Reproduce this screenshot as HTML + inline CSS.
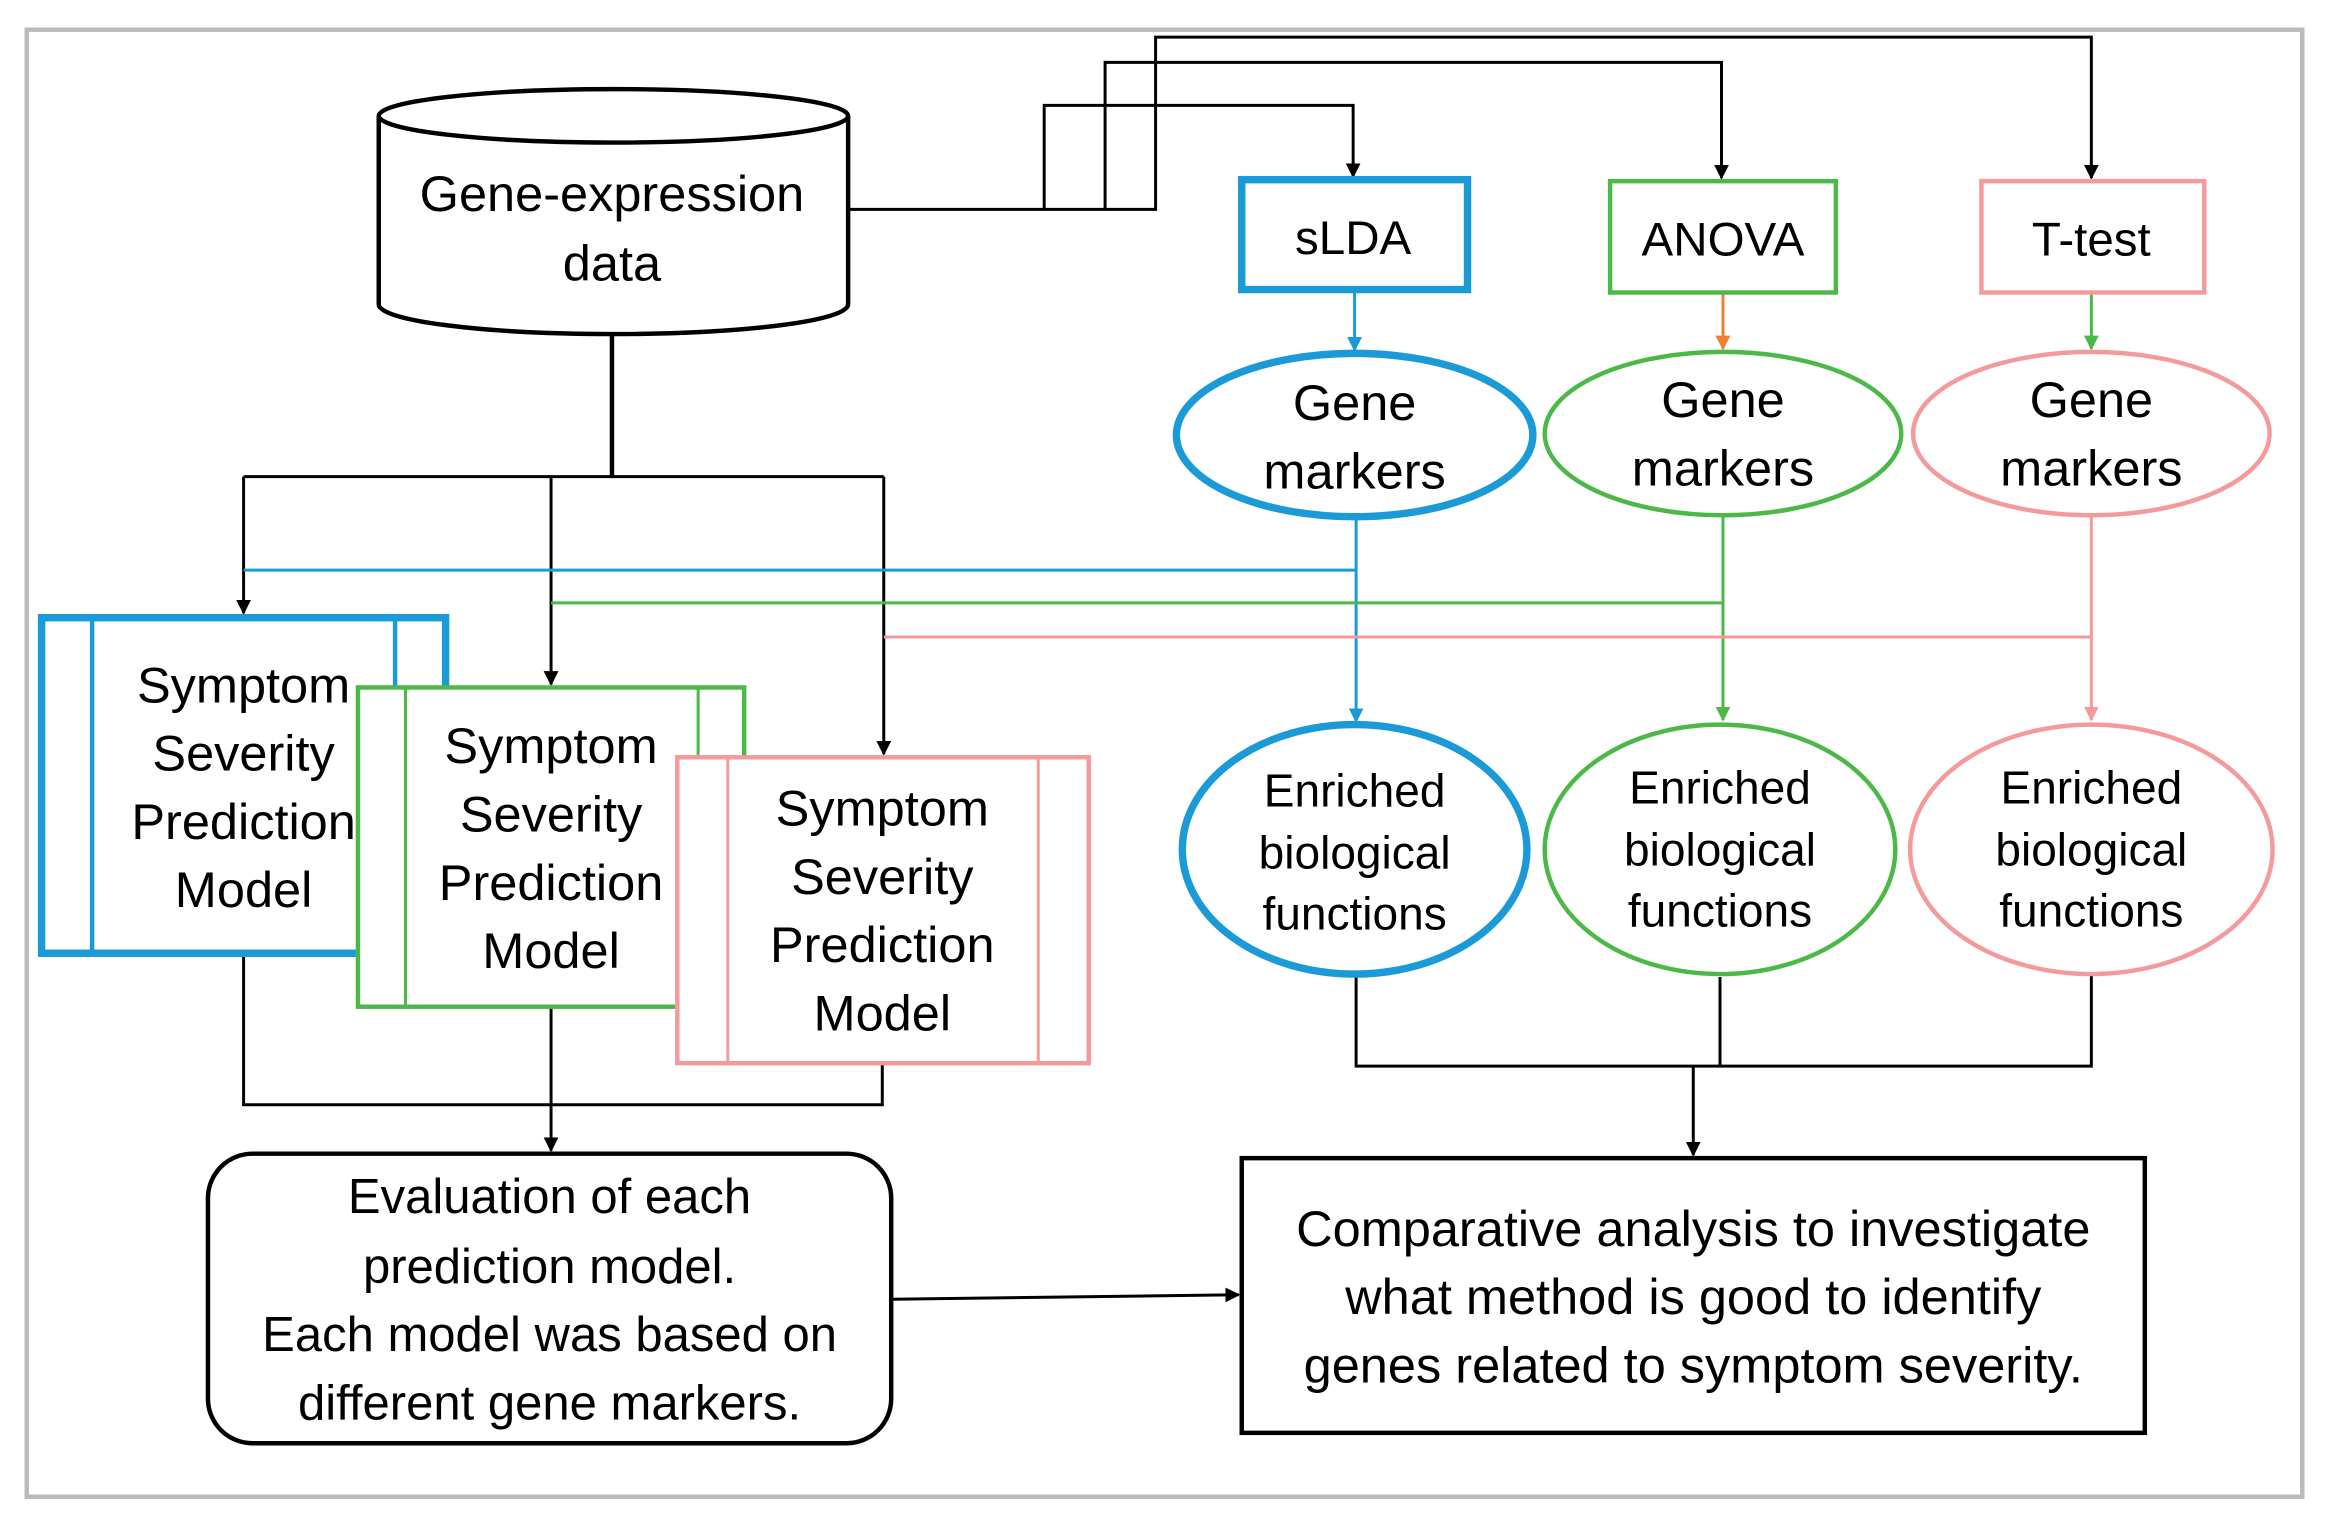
<!DOCTYPE html>
<html><head><style>html,body{margin:0;padding:0;background:#fff}svg{display:block}</style></head>
<body>
<svg width="2329" height="1516" viewBox="0 0 1568 1021" preserveAspectRatio="none" xmlns="http://www.w3.org/2000/svg" font-family="Liberation Sans, sans-serif">
<defs>
<marker id="a" viewBox="0 0 10 10" refX="9" refY="5" markerWidth="5" markerHeight="5" orient="auto"><path d="M0,0L10,5L0,10z" fill="#000"/></marker>
<marker id="ab" viewBox="0 0 10 10" refX="9" refY="5" markerWidth="5" markerHeight="5" orient="auto"><path d="M0,0L10,5L0,10z" fill="#1a9ad6"/></marker>
<marker id="ag" viewBox="0 0 10 10" refX="9" refY="5" markerWidth="5" markerHeight="5" orient="auto"><path d="M0,0L10,5L0,10z" fill="#4cb848"/></marker>
<marker id="ap" viewBox="0 0 10 10" refX="9" refY="5" markerWidth="5" markerHeight="5" orient="auto"><path d="M0,0L10,5L0,10z" fill="#f59a9a"/></marker>
<marker id="ao" viewBox="0 0 10 10" refX="9" refY="5" markerWidth="5" markerHeight="5" orient="auto"><path d="M0,0L10,5L0,10z" fill="#f08030"/></marker>
</defs>
<rect x="18" y="20" width="1532" height="988" fill="#fff" stroke="#bbb" stroke-width="3"/>
<g fill="none" stroke="#000" stroke-width="2">
<path d="M571,141H703V71H911V119" marker-end="url(#a)"/>
<path d="M703,141H744V42H1159V120" marker-end="url(#a)"/>
<path d="M744,141H778V25H1408V120" marker-end="url(#a)"/>
<path d="M412,225V321" stroke-width="3"/>
<path d="M164,321H595"/>
<path d="M164,321V413" marker-end="url(#a)"/>
<path d="M371,321V461" marker-end="url(#a)"/>
<path d="M595,321V508" marker-end="url(#a)"/>
<path d="M164,642V744H594V716M371,678V775" marker-end="url(#a)"/>
<path d="M913,656V718H1408V656M1158,658V718M1140,718V778" marker-end="url(#a)"/>
<path d="M600,875L834,872" marker-end="url(#a)"/>
</g>
<g fill="none" stroke-width="2">
<path d="M164,384H913" stroke="#1a9ad6"/>
<path d="M913,348V486" stroke="#1a9ad6" marker-end="url(#ab)"/>
<path d="M371,406H1160" stroke="#4cb848"/>
<path d="M1160,347V485" stroke="#4cb848" marker-end="url(#ag)"/>
<path d="M595,429H1408" stroke="#f59a9a"/>
<path d="M1408,347V485" stroke="#f59a9a" marker-end="url(#ap)"/>
<path d="M912,197V236" stroke="#1a9ad6" marker-end="url(#ab)"/>
<path d="M1160,198V235" stroke="#f08030" marker-end="url(#ao)"/>
<path d="M1408,198V235" stroke="#4cb848" marker-end="url(#ag)"/>
</g>
<g stroke="#000" stroke-width="3" fill="#fff">
<path d="M255,78V205A158,20 0 0 0 571,205V78"/>
<ellipse cx="413" cy="78" rx="158" ry="18"/>
</g>
<g font-size="34" text-anchor="middle" fill="#000">
<text x="412" y="142">Gene-expression</text>
<text x="412" y="189">data</text>
</g>
<rect x="836" y="121" width="152" height="74" fill="#fff" stroke="#1a9ad6" stroke-width="5"/>
<rect x="1084" y="122" width="152" height="75" fill="#fff" stroke="#4cb848" stroke-width="3"/>
<rect x="1334" y="122" width="150" height="75" fill="#fff" stroke="#f59a9a" stroke-width="3"/>
<g font-size="32" text-anchor="middle">
<text x="911" y="171">sLDA</text>
<text x="1160" y="172">ANOVA</text>
<text x="1408" y="172">T-test</text>
</g>
<ellipse cx="912" cy="293" rx="120" ry="55" fill="#fff" stroke="#1a9ad6" stroke-width="5"/>
<ellipse cx="1160" cy="292" rx="120" ry="55" fill="#fff" stroke="#4cb848" stroke-width="3"/>
<ellipse cx="1408" cy="292" rx="120" ry="55" fill="#fff" stroke="#f59a9a" stroke-width="3"/>
<g font-size="34" text-anchor="middle">
<text x="912" y="283">Gene</text><text x="912" y="329">markers</text>
<text x="1160" y="281">Gene</text><text x="1160" y="327">markers</text>
<text x="1408" y="281">Gene</text><text x="1408" y="327">markers</text>
</g>
<ellipse cx="912" cy="572" rx="116" ry="84" fill="#fff" stroke="#1a9ad6" stroke-width="5"/>
<ellipse cx="1158" cy="572" rx="118" ry="84" fill="#fff" stroke="#4cb848" stroke-width="3"/>
<ellipse cx="1408" cy="572" rx="122" ry="84" fill="#fff" stroke="#f59a9a" stroke-width="3"/>
<g font-size="31" text-anchor="middle">
<text x="912" y="543">Enriched</text><text x="912" y="585">biological</text><text x="912" y="626">functions</text>
<text x="1158" y="541">Enriched</text><text x="1158" y="583">biological</text><text x="1158" y="624">functions</text>
<text x="1408" y="541">Enriched</text><text x="1408" y="583">biological</text><text x="1408" y="624">functions</text>
</g>
<g font-size="34" text-anchor="middle">
<rect x="28" y="416" width="272" height="226" fill="#fff" stroke="#1a9ad6" stroke-width="5"/>
<path d="M62,416V642M266,416V642" stroke="#1a9ad6" stroke-width="3"/>
<text x="164" y="473">Symptom</text><text x="164" y="519">Severity</text><text x="164" y="565">Prediction</text><text x="164" y="611">Model</text>
<rect x="241" y="463" width="260" height="215" fill="#fff" stroke="#4cb848" stroke-width="3"/>
<path d="M273,463V678M470,463V678" stroke="#4cb848" stroke-width="2"/>
<text x="371" y="514">Symptom</text><text x="371" y="560">Severity</text><text x="371" y="606">Prediction</text><text x="371" y="652">Model</text>
<rect x="456" y="510" width="277" height="206" fill="#fff" stroke="#f59a9a" stroke-width="3"/>
<path d="M490,510V716M699,510V716" stroke="#f59a9a" stroke-width="2"/>
<text x="594" y="556">Symptom</text><text x="594" y="602">Severity</text><text x="594" y="648">Prediction</text><text x="594" y="694">Model</text>
</g>
<rect x="140" y="777" width="460" height="195" rx="30" fill="#fff" stroke="#000" stroke-width="3"/>
<g font-size="33" text-anchor="middle">
<text x="370" y="817">Evaluation of each</text>
<text x="370" y="864">prediction model.</text>
<text x="370" y="910">Each model was based on</text>
<text x="370" y="956">different gene markers.</text>
</g>
<rect x="836" y="780" width="608" height="185" fill="#fff" stroke="#000" stroke-width="3"/>
<g font-size="34" text-anchor="middle">
<text x="1140" y="839">Comparative analysis to investigate</text>
<text x="1140" y="885">what method is good to identify</text>
<text x="1140" y="931">genes related to symptom severity.</text>
</g>
</svg>
</body></html>
